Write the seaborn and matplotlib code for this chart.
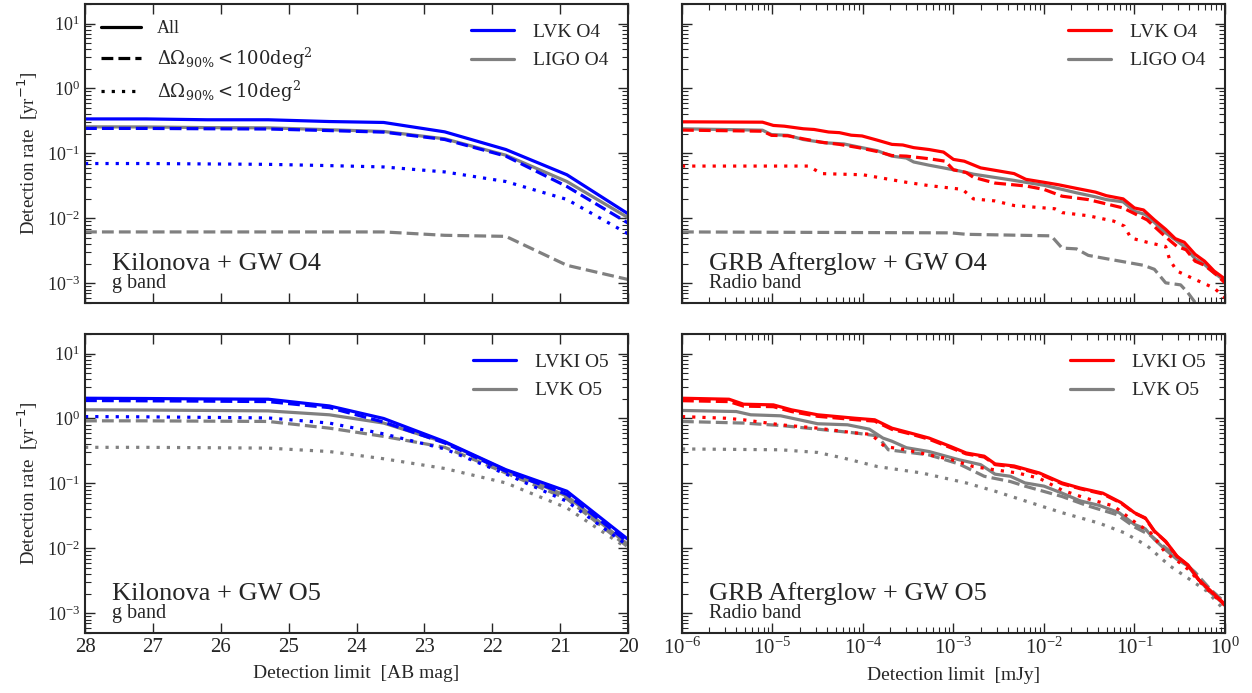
import numpy as np
import matplotlib
matplotlib.use("Agg")
import matplotlib.pyplot as plt
from matplotlib.lines import Line2D
from matplotlib.ticker import LogLocator, NullFormatter
import seaborn as sns

# ----- style -----
sns.set_style("ticks")
plt.rcParams["font.family"] = ["Liberation Serif", "DejaVu Serif"]
plt.rcParams["mathtext.fontset"] = "stix"
plt.rcParams["xtick.direction"] = "in"
plt.rcParams["ytick.direction"] = "in"

BLUE = "#0000ff"
RED = "#ff0000"
GRAY = "#808080"
LW = 2.3
DOT = (0, (1, 2.2))

# ----- data: kilonova (g band), x = AB mag -----
mag = [28.0, 27.1, 26.2, 25.3, 24.4, 23.6, 22.7, 21.8, 20.9, 20.0]

kn_o4_lvk_all = [0.34, 0.34, 0.33, 0.33, 0.31, 0.30, 0.215, 0.115, 0.047, 0.0118]
kn_o4_lvk_100 = [0.243, 0.243, 0.24, 0.238, 0.225, 0.213, 0.164, 0.091, 0.031, 0.0085]
kn_o4_lvk_10 = [0.070, 0.070, 0.069, 0.068, 0.065, 0.062, 0.052, 0.037, 0.0196, 0.0058]
kn_o4_ligo_all = [0.257, 0.256, 0.25, 0.248, 0.232, 0.218, 0.168, 0.094, 0.037, 0.0103]
kn_o4_ligo_100 = [0.0062, 0.0062, 0.0062, 0.0062, 0.0062, 0.0062, 0.0055, 0.0053, 0.0019, 0.00115]

kn_o5_lvki_all = [2.05, 2.03, 2.0, 1.98, 1.56, 1.0, 0.44, 0.163, 0.076, 0.0138]
kn_o5_lvki_100 = [1.89, 1.87, 1.85, 1.82, 1.47, 0.88, 0.42, 0.154, 0.068, 0.0125]
kn_o5_lvki_10 = [1.07, 1.06, 1.04, 1.02, 0.85, 0.58, 0.34, 0.14, 0.053, 0.011]
kn_o5_lvk_all = [1.36, 1.35, 1.33, 1.31, 1.14, 0.85, 0.43, 0.16, 0.064, 0.0115]
kn_o5_lvk_100 = [0.92, 0.92, 0.91, 0.90, 0.71, 0.53, 0.36, 0.145, 0.058, 0.0105]
kn_o5_lvk_10 = [0.36, 0.36, 0.355, 0.35, 0.31, 0.24, 0.17, 0.102, 0.042, 0.0099]

# ----- data: GRB afterglow (radio), x = log10(mJy) -----
o4_lvk_all_lx = [-6.0, -5.11, -4.99, -4.87, -4.66, -4.54, -4.38, -4.26, -4.13, -4.01, -3.84,
                 -3.68, -3.56, -3.44, -3.27, -3.11, -3.0, -2.88, -2.7, -2.54, -2.33, -2.2,
                 -2.0, -1.84, -1.64, -1.43, -1.31, -1.125, -1.0, -0.9, -0.78, -0.655,
                 -0.55, -0.45, -0.33, -0.225, -0.12, 0.0]
o4_lvk_all = [0.307, 0.303, 0.270, 0.263, 0.240, 0.234, 0.214, 0.209, 0.191, 0.186, 0.160,
              0.138, 0.135, 0.123, 0.115, 0.105, 0.081, 0.076, 0.060, 0.055, 0.049, 0.040,
              0.036, 0.033, 0.029, 0.0254, 0.0224, 0.020, 0.0145, 0.0135, 0.0095, 0.0068,
              0.0049, 0.0043, 0.0028, 0.0022, 0.00155, 0.00117]

o4_lvk_100_lx = [-6.0, -5.11, -5.01, -4.83, -4.66, -4.46, -4.26, -4.05, -3.84, -3.68, -3.52,
                 -3.27, -3.09, -3.0, -2.86, -2.78, -2.54, -2.2, -2.0, -1.8, -1.51, -1.3,
                 -1.125, -0.98, -0.86, -0.655, -0.53, -0.43, -0.33, -0.225, -0.1, 0.0]
o4_lvk_100 = [0.229, 0.22, 0.19, 0.187, 0.168, 0.149, 0.138, 0.123, 0.107, 0.093, 0.091,
              0.083, 0.076, 0.056, 0.051, 0.043, 0.035, 0.0316, 0.028, 0.022, 0.0195, 0.0166,
              0.0145, 0.0115, 0.0095, 0.0052, 0.0037, 0.0033, 0.0022, 0.0019, 0.00138, 0.00102]

o4_lvk_10_lx = [-6.0, -4.6, -4.46, -4.0, -3.84, -3.52, -3.27, -2.9, -2.78, -2.54, -2.33,
                -1.88, -1.8, -1.51, -1.23, -1.11, -1.04, -0.86, -0.655, -0.61, -0.53,
                -0.33, -0.12, 0.0]
o4_lvk_10 = [0.064, 0.064, 0.049, 0.047, 0.043, 0.036, 0.032, 0.028, 0.020, 0.0186, 0.0158,
             0.0141, 0.0123, 0.011, 0.0091, 0.0076, 0.005, 0.0043, 0.0037, 0.0023, 0.00155,
             0.00115, 0.00085, 0.0006]

o4_ligo_all_lx = [-6.0, -5.11, -5.01, -4.83, -4.66, -4.42, -4.21, -4.05, -3.84, -3.68, -3.52,
                  -3.44, -3.27, -3.11, -2.94, -2.78, -2.54, -2.33, -2.0, -1.8, -1.64, -1.43,
                  -1.31, -1.125, -1.0, -0.88, -0.78, -0.655, -0.55, -0.45, -0.33, -0.225,
                  -0.12, 0.0]
o4_ligo_all = [0.24, 0.228, 0.195, 0.19, 0.164, 0.146, 0.14, 0.126, 0.11, 0.091, 0.085,
               0.074, 0.066, 0.060, 0.054, 0.048, 0.0427, 0.0385, 0.0324, 0.028, 0.0248,
               0.0215, 0.0195, 0.018, 0.0129, 0.0115, 0.0087, 0.006, 0.0047, 0.0037, 0.0024,
               0.00195, 0.00145, 0.0011]

o4_ligo_100_lx = [-6.0, -3.03, -2.86, -1.92, -1.8, -1.64, -1.51, -1.31, -0.9, -0.78, -0.655,
                  -0.49, -0.41, -0.33, -0.25]
o4_ligo_100 = [0.0062, 0.006, 0.0057, 0.0054, 0.0035, 0.0034, 0.0027, 0.0024, 0.0019, 0.00165,
               0.00102, 0.00095, 0.00072, 0.00051, 0.00035]

o5_lvki_all_lx = [-6.0, -5.48, -5.32, -4.99, -4.79, -4.5, -4.09, -3.87, -3.68, -3.48, -3.27,
                  -3.03, -2.86, -2.66, -2.54, -2.33, -2.05, -1.8, -1.6, -1.35, -1.15, -1.0,
                  -0.88, -0.78, -0.655, -0.53, -0.41, -0.29, -0.16, 0.0]
o5_lvki_all = [2.05, 1.98, 1.66, 1.62, 1.36, 1.14, 1.01, 0.955, 0.71, 0.60, 0.50, 0.37, 0.295,
               0.263, 0.20, 0.186, 0.145, 0.102, 0.085, 0.071, 0.051, 0.0355, 0.0295, 0.0186,
               0.0129, 0.0076, 0.0056, 0.0033, 0.00224, 0.00138]
o5_lvki_100 = [1.88, 1.82, 1.55, 1.52, 1.28, 1.08, 0.96, 0.91, 0.68, 0.58, 0.48, 0.355, 0.285,
               0.255, 0.195, 0.18, 0.14, 0.099, 0.083, 0.069, 0.05, 0.035, 0.029, 0.0183,
               0.0127, 0.0075, 0.0055, 0.0033, 0.0022, 0.00135]

o5_lvki_10_lx = [-6.0, -5.52, -5.32, -4.91, -4.5, -4.09, -3.91, -3.76, -3.52, -3.27, -3.03,
                 -2.78, -2.54, -2.29, -2.05, -1.8, -1.55, -1.23, -0.98, -0.82, -0.655, -0.53,
                 -0.41, -0.29, -0.16, 0.0]
o5_lvki_10 = [1.07, 1.01, 0.955, 0.80, 0.71, 0.60, 0.57, 0.37, 0.33, 0.275, 0.234, 0.182,
              0.162, 0.145, 0.12, 0.079, 0.060, 0.045, 0.0245, 0.0174, 0.0085, 0.0065, 0.0048,
              0.0032, 0.0021, 0.00132]

o5_lvk_all_lx = [-6.0, -5.4, -5.24, -4.91, -4.74, -4.5, -4.17, -3.93, -3.78, -3.68, -3.52,
                 -3.27, -2.94, -2.7, -2.54, -2.37, -2.21, -2.0, -1.8, -1.6, -1.39, -1.17, -1.0,
                 -0.88, -0.78, -0.655, -0.53, -0.41, -0.29, -0.16, 0.0]
o5_lvk_all = [1.33, 1.28, 1.14, 1.10, 0.98, 0.83, 0.80, 0.685, 0.50, 0.447, 0.355, 0.31,
              0.232, 0.195, 0.139, 0.129, 0.102, 0.091, 0.071, 0.054, 0.046, 0.0355, 0.0234,
              0.020, 0.0138, 0.0095, 0.0068, 0.0054, 0.0033, 0.0021, 0.00135]

o5_lvk_100_lx = [-6.0, -5.32, -4.91, -4.5, -4.09, -3.84, -3.72, -3.27, -2.94, -2.66, -2.37,
                 -2.21, -1.8, -1.51, -1.19, -1.0, -0.82, -0.655, -0.49, -0.33, -0.16, 0.0]
o5_lvk_100 = [0.90, 0.85, 0.78, 0.685, 0.60, 0.54, 0.33, 0.275, 0.20, 0.129, 0.107, 0.091,
              0.063, 0.045, 0.033, 0.0214, 0.0158, 0.0102, 0.0068, 0.0043, 0.00234, 0.00148]

o5_lvk_10_lx = [-6.0, -4.91, -4.5, -4.21, -3.84, -3.35, -2.86, -2.54, -2.21, -1.8, -1.39,
                -1.11, -0.86, -0.61, -0.41, -0.2, 0.0]
o5_lvk_10 = [0.34, 0.33, 0.30, 0.245, 0.182, 0.145, 0.102, 0.076, 0.054, 0.0355, 0.0245,
             0.0174, 0.011, 0.0054, 0.0035, 0.0022, 0.0011]


def draw(ax, x, y, color, ls):
    sns.lineplot(x=x, y=y, ax=ax, color=color, linestyle=ls, lw=LW, estimator=None, sort=False)


fig = plt.figure(figsize=(12.52, 6.93), dpi=100)
ax_tl = fig.add_axes([0.0679, 0.5628, 0.4337, 0.4315])
ax_tr = fig.add_axes([0.5447, 0.5628, 0.4337, 0.4315])
ax_bl = fig.add_axes([0.0679, 0.0866, 0.4337, 0.4315])
ax_br = fig.add_axes([0.5447, 0.0866, 0.4337, 0.4315])

# kilonova O4
draw(ax_tl, mag, kn_o4_lvk_all, BLUE, "-")
draw(ax_tl, mag, kn_o4_ligo_all, GRAY, "-")
draw(ax_tl, mag, kn_o4_lvk_100, BLUE, "--")
draw(ax_tl, mag, kn_o4_ligo_100, GRAY, "--")
draw(ax_tl, mag, kn_o4_lvk_10, BLUE, DOT)

# kilonova O5
draw(ax_bl, mag, kn_o5_lvk_all, GRAY, "-")
draw(ax_bl, mag, kn_o5_lvk_100, GRAY, "--")
draw(ax_bl, mag, kn_o5_lvk_10, GRAY, DOT)
draw(ax_bl, mag, kn_o5_lvki_all, BLUE, "-")
draw(ax_bl, mag, kn_o5_lvki_100, BLUE, "--")
draw(ax_bl, mag, kn_o5_lvki_10, BLUE, DOT)

# GRB O4
mjy = lambda lx: np.power(10.0, lx)
draw(ax_tr, mjy(o4_ligo_all_lx), o4_ligo_all, GRAY, "-")
draw(ax_tr, mjy(o4_ligo_100_lx), o4_ligo_100, GRAY, "--")
draw(ax_tr, mjy(o4_lvk_all_lx), o4_lvk_all, RED, "-")
draw(ax_tr, mjy(o4_lvk_100_lx), o4_lvk_100, RED, "--")
draw(ax_tr, mjy(o4_lvk_10_lx), o4_lvk_10, RED, DOT)

# GRB O5
draw(ax_br, mjy(o5_lvk_all_lx), o5_lvk_all, GRAY, "-")
draw(ax_br, mjy(o5_lvk_100_lx), o5_lvk_100, GRAY, "--")
draw(ax_br, mjy(o5_lvk_10_lx), o5_lvk_10, GRAY, DOT)
draw(ax_br, mjy(o5_lvki_all_lx), o5_lvki_all, RED, "-")
draw(ax_br, mjy(o5_lvki_all_lx), o5_lvki_100, RED, "--")
draw(ax_br, mjy(o5_lvki_10_lx), o5_lvki_10, RED, DOT)

for ax in (ax_tl, ax_tr, ax_bl, ax_br):
    ax.set_yscale("log")
    ax.set_ylim(5e-4, 20)
    ax.yaxis.set_major_locator(LogLocator(base=10, numticks=20))
    ax.yaxis.set_minor_locator(LogLocator(base=10, subs=np.arange(2, 10), numticks=100))
    ax.yaxis.set_minor_formatter(NullFormatter())
    ax.tick_params(which="both", top=True, right=True, direction="in")
    ax.tick_params(axis="x", labelsize=15)
    ax.tick_params(axis="y", labelsize=13)
    ax.tick_params(which="major", length=7, width=1)
    ax.tick_params(which="minor", length=4, width=0.8)
    for s in ax.spines.values():
        s.set_linewidth(1.5)
    ax.set_xlabel("")
    ax.set_ylabel("")

for ax in (ax_tl, ax_bl):
    ax.set_xlim(28, 20)
    ax.set_xticks([28, 27, 26, 25, 24, 23, 22, 21, 20])
    ylab = ax.set_ylabel("Detection rate  [yr$^{-1}$]", fontsize=13.5, labelpad=4)
    ylab.set_math_fontfamily("dejavusans")
for ax in (ax_tr, ax_br):
    ax.set_xscale("log")
    ax.set_xlim(1e-6, 1)
    ax.xaxis.set_major_locator(LogLocator(base=10, numticks=20))
    ax.xaxis.set_minor_locator(LogLocator(base=10, subs=np.arange(2, 10), numticks=100))
    ax.xaxis.set_minor_formatter(NullFormatter())
    ax.tick_params(axis="y", labelleft=False)
ax_tl.tick_params(axis="x", labelbottom=False)
ax_tr.tick_params(axis="x", labelbottom=False)
ax_bl.set_xlabel("Detection limit  [AB mag]", fontsize=14, labelpad=6)
ax_br.set_xlabel("Detection limit  [mJy]", fontsize=14, labelpad=6)

# panel titles
panels = [(ax_tl, "Kilonova + GW O4", "g band"), (ax_tr, "GRB Afterglow + GW O4", "Radio band"),
          (ax_bl, "Kilonova + GW O5", "g band"), (ax_br, "GRB Afterglow + GW O5", "Radio band")]
for ax, title, band in panels:
    ax.text(0.05, 0.11, title, transform=ax.transAxes, fontsize=19, va="baseline")
    ax.text(0.05, 0.05, band, transform=ax.transAxes, fontsize=14.5, va="baseline")

# legends
style_handles = [Line2D([], [], color="k", ls="-", lw=LW),
                 Line2D([], [], color="k", ls="--", lw=LW),
                 Line2D([], [], color="k", ls=DOT, lw=LW)]
style_labels = ["All", r"$\Delta\Omega_{90\%} < 100\mathrm{deg}^2$",
                r"$\Delta\Omega_{90\%} < 10\mathrm{deg}^2$"]
leg = ax_tl.legend(style_handles, style_labels, loc="upper left", frameon=False, fontsize=13,
                   handlelength=2.2, handletextpad=0.9, labelspacing=0.45,
                   bbox_to_anchor=(0.0, 1.0))
for t in leg.get_texts():
    t.set_math_fontfamily("dejavuserif")
ax_tl.add_artist(leg)

det_legends = [(ax_tl, BLUE, ["LVK O4", "LIGO O4"]), (ax_tr, RED, ["LVK O4", "LIGO O4"]),
               (ax_bl, BLUE, ["LVKI O5", "LVK O5"]), (ax_br, RED, ["LVKI O5", "LVK O5"])]
for ax, c, labels in det_legends:
    hs = [Line2D([], [], color=c, lw=LW), Line2D([], [], color=GRAY, lw=LW)]
    ax.legend(hs, labels, loc="upper right", frameon=False, fontsize=14,
              handlelength=2.2, handletextpad=1.0, labelspacing=0.55,
              bbox_to_anchor=(0.997, 0.993))

fig.savefig("out.png", dpi=100)
